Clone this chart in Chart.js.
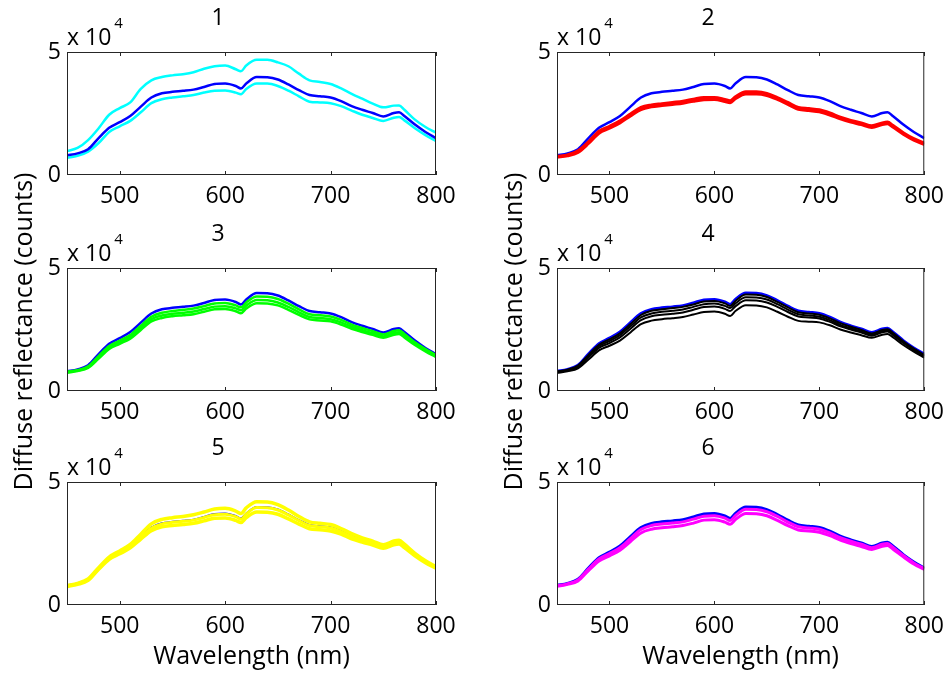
<!DOCTYPE html>
<html>
<head>
<meta charset="utf-8">
<script src="https://cdn.jsdelivr.net/npm/chart.js@4.4.1/dist/chart.umd.min.js"></script>
<style>
  html, body { margin: 0; padding: 0; background: #fff; }
  #wrap { position: relative; width: 952px; height: 673px; overflow: hidden; background: #fff; }
  canvas { position: absolute; }
</style>
</head>
<body>
<div id="wrap"></div>
<script>
// ---- data (reflectance in units of 10^4 counts) ----
const wavelength = [450,460,470,480,490,500,510,520,530,540,550,560,570,580,590,600,610,615,620,630,640,650,660,670,680,690,700,710,720,730,740,750,760,765,770,780,790,800];
const xTicks = [500, 600, 700, 800];
const yTicks = [0, 5];
const panelTitles = ['1', '2', '3', '4', '5', '6'];

const blueRef = [0.80,0.88,1.05,1.50,1.92,2.15,2.40,2.78,3.15,3.32,3.38,3.42,3.47,3.58,3.70,3.72,3.62,3.52,3.72,3.98,3.97,3.88,3.68,3.45,3.25,3.20,3.15,3.00,2.80,2.65,2.52,2.38,2.52,2.55,2.40,2.05,1.75,1.50];

const cyanHigh = [0.97,1.10,1.42,1.90,2.45,2.72,2.95,3.50,3.85,3.98,4.05,4.10,4.18,4.32,4.42,4.45,4.30,4.22,4.45,4.68,4.68,4.58,4.42,4.12,3.85,3.78,3.70,3.52,3.30,3.10,2.90,2.75,2.82,2.83,2.65,2.25,1.95,1.72];
const cyanLow  = [0.70,0.78,0.95,1.30,1.75,1.98,2.20,2.55,2.92,3.08,3.15,3.20,3.25,3.35,3.42,3.43,3.35,3.28,3.50,3.72,3.72,3.62,3.43,3.20,2.98,2.95,2.92,2.80,2.62,2.45,2.32,2.20,2.33,2.36,2.22,1.90,1.62,1.38];

const redA = [0.76,0.82,0.98,1.35,1.78,1.98,2.20,2.48,2.75,2.85,2.90,2.95,3.00,3.08,3.15,3.15,3.07,3.02,3.18,3.38,3.38,3.32,3.15,2.95,2.75,2.70,2.65,2.52,2.35,2.22,2.12,2.00,2.12,2.15,2.02,1.72,1.48,1.30];
const redB = [0.72,0.78,0.92,1.28,1.70,1.90,2.12,2.40,2.66,2.77,2.82,2.87,2.92,3.00,3.06,3.07,2.99,2.94,3.10,3.29,3.29,3.23,3.07,2.87,2.67,2.62,2.57,2.44,2.28,2.15,2.05,1.93,2.05,2.08,1.95,1.66,1.42,1.24];

const greenA = [0.78,0.85,1.00,1.42,1.83,2.05,2.28,2.65,3.02,3.18,3.25,3.30,3.35,3.45,3.56,3.58,3.48,3.40,3.60,3.84,3.83,3.74,3.55,3.32,3.12,3.08,3.03,2.89,2.70,2.56,2.43,2.30,2.44,2.47,2.32,1.98,1.70,1.46];
const greenB = [0.76,0.83,0.97,1.37,1.77,1.98,2.20,2.56,2.92,3.07,3.14,3.18,3.23,3.33,3.43,3.45,3.36,3.28,3.47,3.70,3.69,3.60,3.42,3.20,3.01,2.97,2.92,2.79,2.61,2.47,2.35,2.22,2.36,2.39,2.25,1.92,1.65,1.42];
const greenC = [0.74,0.81,0.94,1.32,1.71,1.92,2.13,2.48,2.83,2.97,3.04,3.08,3.12,3.22,3.32,3.33,3.24,3.16,3.35,3.57,3.56,3.48,3.30,3.09,2.91,2.87,2.83,2.70,2.53,2.40,2.28,2.16,2.29,2.32,2.18,1.87,1.61,1.38];

const blackA = [0.79,0.87,1.03,1.47,1.88,2.10,2.35,2.72,3.09,3.26,3.32,3.37,3.42,3.52,3.64,3.66,3.56,3.46,3.66,3.92,3.91,3.82,3.62,3.40,3.20,3.15,3.10,2.95,2.76,2.61,2.48,2.34,2.48,2.51,2.37,2.02,1.72,1.47];
const blackB = [0.78,0.85,1.00,1.42,1.82,2.03,2.27,2.63,2.99,3.15,3.22,3.26,3.31,3.42,3.53,3.56,3.46,3.37,3.56,3.81,3.80,3.72,3.53,3.31,3.12,3.07,3.02,2.88,2.69,2.55,2.42,2.29,2.43,2.46,2.32,1.98,1.69,1.44];
const blackC = [0.76,0.83,0.97,1.37,1.75,1.95,2.18,2.53,2.88,3.04,3.10,3.14,3.19,3.30,3.41,3.43,3.34,3.25,3.44,3.69,3.68,3.60,3.42,3.21,3.03,2.99,2.95,2.81,2.63,2.50,2.38,2.25,2.39,2.42,2.28,1.95,1.66,1.42];
const blackD = [0.73,0.80,0.92,1.28,1.65,1.84,2.05,2.38,2.72,2.86,2.92,2.96,3.01,3.11,3.21,3.23,3.14,3.05,3.25,3.49,3.48,3.40,3.22,3.02,2.85,2.82,2.79,2.67,2.50,2.38,2.27,2.16,2.29,2.32,2.19,1.87,1.60,1.36];

const yellowHigh = [0.78,0.88,1.06,1.52,1.95,2.20,2.46,2.88,3.30,3.48,3.55,3.60,3.67,3.78,3.90,3.93,3.82,3.72,3.95,4.20,4.19,4.08,3.86,3.60,3.38,3.32,3.27,3.11,2.90,2.73,2.60,2.45,2.60,2.63,2.47,2.10,1.80,1.56];
const yellowMid  = [0.77,0.86,1.03,1.48,1.90,2.13,2.38,2.76,3.12,3.30,3.36,3.40,3.45,3.56,3.67,3.69,3.59,3.49,3.70,3.96,3.95,3.86,3.66,3.43,3.23,3.18,3.13,2.98,2.78,2.64,2.51,2.37,2.51,2.54,2.39,2.04,1.75,1.52];
const yellowLow  = [0.75,0.84,1.00,1.45,1.86,2.08,2.32,2.68,3.02,3.18,3.23,3.27,3.32,3.42,3.53,3.54,3.44,3.35,3.55,3.78,3.77,3.69,3.50,3.29,3.10,3.06,3.01,2.88,2.69,2.56,2.44,2.31,2.45,2.48,2.33,2.00,1.72,1.50];

const magentaA = [0.78,0.86,1.02,1.46,1.87,2.09,2.33,2.70,3.07,3.23,3.29,3.33,3.38,3.49,3.61,3.63,3.53,3.43,3.63,3.89,3.88,3.79,3.60,3.37,3.18,3.13,3.08,2.93,2.74,2.59,2.47,2.33,2.47,2.50,2.35,2.01,1.71,1.48];
const magentaB = [0.76,0.84,0.98,1.40,1.79,2.00,2.23,2.58,2.93,3.08,3.14,3.18,3.23,3.33,3.45,3.47,3.37,3.28,3.47,3.72,3.71,3.63,3.44,3.23,3.05,3.01,2.96,2.82,2.64,2.50,2.38,2.26,2.39,2.42,2.28,1.96,1.67,1.45];

// ---- panels: series listed first are drawn on top ----
const panels = [
  { title: panelTitles[0], series: [[blueRef, '#0000ff', 2.5], [cyanHigh, '#00ffff', 2.5], [cyanLow, '#00ffff', 2.5]] },
  { title: panelTitles[1], series: [[redA, '#ff0000', 3], [redB, '#ff0000', 3], [blueRef, '#0000ff', 2.5]] },
  { title: panelTitles[2], series: [[greenA, '#00ff00', 2.5], [greenB, '#00ff00', 2.5], [greenC, '#00ff00', 2.5], [blueRef, '#0000ff', 2.5]] },
  { title: panelTitles[3], series: [[blackA, '#000000', 2], [blackB, '#000000', 2], [blackC, '#000000', 2], [blackD, '#000000', 2], [blueRef, '#0000ff', 3]] },
  { title: panelTitles[4], series: [[yellowHigh, '#ffff00', 3.5], [yellowMid, '#ffff00', 3], [yellowLow, '#ffff00', 3.5], [blueRef, '#0000ff', 2]] },
  { title: panelTitles[5], series: [[magentaA, '#ff00ff', 3], [magentaB, '#ff00ff', 3], [blueRef, '#0000ff', 3]] }
];
const yAxisLabel = 'Diffuse reflectance (counts)';
const xAxisLabel = 'Wavelength (nm)';

// ---- layout (pixels) ----
const FONT = '"Open Sans", sans-serif';
Chart.defaults.font.family = FONT;
Chart.defaults.color = '#000';
const colBoxLeft = [67, 557];
const rowBoxTop = [52, 268, 482];
const rowExtraTop = [0, 56, 0];
const rowExtraBottom = [0, 69, 0];
const boxW = 369, boxH = 123;
const yAxisW = 67, topSpace = 52;

const framePlugin = {
  id: 'frame',
  afterDraw(chart, args, opts) {
    const { ctx, chartArea: a, scales } = chart;
    const x = scales.x;
    ctx.save();
    ctx.strokeStyle = '#262626';
    ctx.lineWidth = 1;
    ctx.strokeRect(a.left + 0.5, a.top + 0.5, a.right - a.left - 1, a.bottom - a.top - 1);
    ctx.beginPath();
    x.ticks.forEach(t => {
      const px = Math.round(x.getPixelForValue(t.value)) + 0.5;
      ctx.moveTo(px, a.bottom); ctx.lineTo(px, a.bottom - 4);
      ctx.moveTo(px, a.top); ctx.lineTo(px, a.top + 4);
    });
    ctx.stroke();
    ctx.fillStyle = '#000';
    ctx.textBaseline = 'alphabetic';
    ctx.textAlign = 'left';
    ctx.font = '23px ' + FONT;
    ctx.fillText('x 10', a.left, a.top - 7);
    const w = ctx.measureText('x 10').width;
    ctx.font = '15px ' + FONT;
    ctx.fillText('4', a.left + w + 3, a.top - 24);
    if (opts.yLabel) {
      ctx.font = '25px ' + FONT;
      ctx.textAlign = 'center';
      ctx.textBaseline = 'middle';
      ctx.translate(25, (a.top + a.bottom) / 2 + 2);
      ctx.rotate(-Math.PI / 2);
      ctx.fillText(opts.yLabel, 0, 0);
    }
    ctx.restore();
  }
};

const wrap = document.getElementById('wrap');
panels.forEach((p, i) => {
  const r = Math.floor(i / 2), c = i % 2;
  const extraTop = rowExtraTop[r], extraBottom = rowExtraBottom[r];
  const left = colBoxLeft[c] - yAxisW;
  const top = rowBoxTop[r] - topSpace - extraTop;
  const width = c === 0 ? 465 : 952 - left;
  const xAxisH = r === 2 ? 68 : 40;
  const height = extraTop + topSpace + boxH + xAxisH + extraBottom;
  const cv = document.createElement('canvas');
  cv.width = width; cv.height = height;
  cv.style.left = left + 'px'; cv.style.top = top + 'px';
  cv.style.width = width + 'px'; cv.style.height = height + 'px';
  wrap.appendChild(cv);

  new Chart(cv.getContext('2d'), {
    type: 'line',
    data: {
      labels: wavelength,
      datasets: p.series.map(([vals, col, bw]) => ({
        data: vals.map((v, k) => ({ x: wavelength[k], y: v })),
        borderColor: col,
        backgroundColor: col,
        borderWidth: bw,
        pointRadius: 0,
        cubicInterpolationMode: 'monotone',
        fill: false
      }))
    },
    options: {
      responsive: false,
      animation: false,
      devicePixelRatio: 1,
      layout: { padding: { left: 0, top: extraTop, bottom: extraBottom, right: width - yAxisW - boxW } },
      plugins: {
        legend: { display: false },
        tooltip: { enabled: false },
        frame: { yLabel: r === 1 ? yAxisLabel : null },
        title: {
          display: true,
          text: p.title,
          color: '#000',
          font: { size: 23, weight: 'normal', family: FONT, lineHeight: 1.2 },
          padding: { top: 5, bottom: 52 - 5 - 27.6 }
        }
      },
      scales: {
        x: {
          type: 'linear',
          min: 450, max: 800,
          grid: { display: false, drawTicks: false },
          border: { display: false },
          ticks: {
            stepSize: 100, includeBounds: false, padding: 8,
            maxRotation: 0, autoSkip: false,
            font: { size: 23 }, color: '#000',
            callback: v => xTicks.includes(v) ? String(v) : ''
          },
          title: {
            display: r === 2,
            text: xAxisLabel,
            font: { size: 25 }, color: '#000',
            padding: { top: 0, bottom: 1 }
          },
          afterFit: s => { s.height = xAxisH; }
        },
        y: {
          type: 'linear',
          min: 0, max: 5,
          grid: { display: false, drawTicks: false },
          border: { display: false },
          ticks: {
            stepSize: 5, padding: 6,
            font: { size: 23 }, color: '#000',
            callback: v => yTicks.includes(v) ? String(v) : ''
          },
          afterFit: s => { s.width = yAxisW; }
        }
      }
    },
    plugins: [framePlugin]
  });
});
</script>
</body>
</html>
